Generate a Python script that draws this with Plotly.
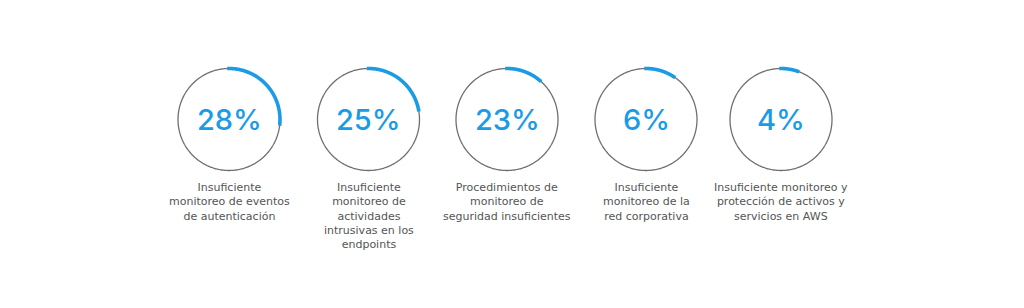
import numpy as np
import plotly.graph_objects as go

# ---- data ----
values = [28, 25, 23, 6, 4]
pct_labels = ["28%", "25%", "23%", "6%", "4%"]
arc_degrees = [97, 81, 42, 35, 21]   # arc extent as drawn in the picture
categories = [
    "Insuficiente<br>monitoreo de eventos<br>de autenticación",
    "Insuficiente<br>monitoreo de<br>actividades<br>intrusivas en los<br>endpoints",
    "Procedimientos de<br>monitoreo de<br>seguridad insuficientes",
    "Insuficiente<br>monitoreo de la<br>red corporativa",
    "Insuficiente monitoreo y<br>protección de activos y<br>servicios en AWS",
]

# ---- layout constants (pixels) ----
W, H = 1024, 308
centers_x = [229, 368.5, 507, 646, 781]
center_y = 119.5
radius = 51
pad = 1.06
BLUE = "#1b9be6"
GRAY = "#6f6f6f"
TEXT = "#555555"

fig = go.Figure()
layout_polars = {}
annotations = []
for i, (cx, val, arc, plab, cat) in enumerate(zip(centers_x, values, arc_degrees, pct_labels, categories)):
    key = "polar" if i == 0 else f"polar{i+1}"
    th_full = np.linspace(0, 360, 361)
    fig.add_trace(go.Scatterpolar(r=np.ones_like(th_full), theta=th_full, mode="lines",
                                  line=dict(color=GRAY, width=1.3), subplot=key,
                                  hoverinfo="skip", showlegend=False))
    th_arc = np.linspace(-2, arc, 120)
    fig.add_trace(go.Scatterpolar(r=np.ones_like(th_arc), theta=th_arc, mode="lines",
                                  line=dict(color=BLUE, width=3.6), subplot=key,
                                  name=f"{val}%", showlegend=False))
    rr = radius * pad
    layout_polars[key] = dict(
        domain=dict(x=[(cx - rr) / W, (cx + rr) / W],
                    y=[1 - (center_y + rr) / H, 1 - (center_y - rr) / H]),
        bgcolor="rgba(0,0,0,0)",
        radialaxis=dict(visible=False, range=[0, pad]),
        angularaxis=dict(visible=False, rotation=90, direction="clockwise"),
    )
    annotations.append(dict(x=cx / W, y=1 - (center_y - 0.5) / H, xref="paper", yref="paper",
                            text=plab, showarrow=False, xanchor="center", yanchor="middle",
                            font=dict(family="Inter", size=29, color=BLUE, weight=500)))
    annotations.append(dict(x=cx / W, y=1 - 179 / H, xref="paper", yref="paper",
                            text=cat, showarrow=False, xanchor="center", yanchor="top",
                            align="center",
                            font=dict(family="DejaVu Sans", size=11, color=TEXT)))

fig.update_layout(width=W, height=H, margin=dict(l=0, r=0, t=0, b=0),
                  paper_bgcolor="white", plot_bgcolor="white",
                  annotations=annotations, **layout_polars)
fig.write_html("out.html", config={"displayModeBar": False})
